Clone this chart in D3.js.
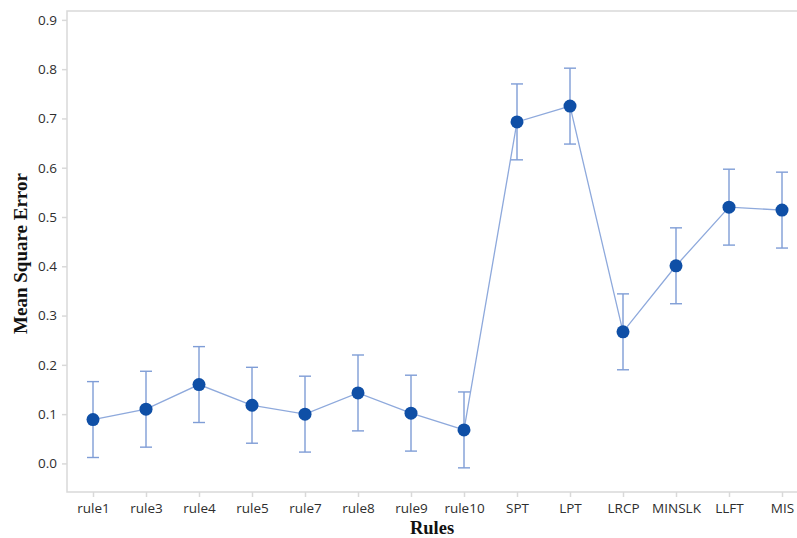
<!DOCTYPE html>
<html>
<head>
<meta charset="utf-8">
<script src="https://cdn.jsdelivr.net/npm/d3@7"></script>
<style>
  html, body { margin: 0; padding: 0; background: #fff; }
  svg { display: block; }
</style>
</head>
<body>
<svg id="chart" width="797" height="538"></svg>
<script>
// Dispatching rules and their mean square error with interval bounds
const rules = ["rule1", "rule3", "rule4", "rule5", "rule7", "rule8", "rule9", "rule10",
               "SPT", "LPT", "LRCP", "MINSLK", "LLFT", "MIS"];
const mse   = [0.089, 0.110, 0.160, 0.118, 0.100, 0.143, 0.102, 0.068,
               0.693, 0.725, 0.267, 0.401, 0.520, 0.514];
const lower = [0.012, 0.033, 0.083, 0.041, 0.023, 0.066, 0.025, -0.009,
               0.616, 0.648, 0.190, 0.324, 0.443, 0.437];
const upper = [0.166, 0.187, 0.237, 0.195, 0.177, 0.220, 0.179, 0.145,
               0.770, 0.802, 0.344, 0.478, 0.597, 0.591];
const yTicks = [0.0, 0.1, 0.2, 0.3, 0.4, 0.5, 0.6, 0.7, 0.8, 0.9];

const svg = d3.select("#chart");
const frame = { left: 67, top: 11, bottom: 492, right: 835 };

const x = d3.scalePoint()
  .domain(rules)
  .range([93, 93 + 53 * (rules.length - 1)]);

const y = d3.scaleLinear()
  .domain([-0.058, 0.918])
  .range([frame.bottom, frame.top]);

const frameColor = "#d9d9d9";
const textColor = "#2e2e2e";
const lineColor = "#8ea9dc";
const barColor = "#7f9dd6";
const dotColor = "#0f4fa6";
const tickFont = "'Open Sans', 'Noto Sans', sans-serif";
const titleFont = "'Liberation Serif', 'Times New Roman', serif";

// plot frame
svg.append("rect")
  .attr("x", frame.left).attr("y", frame.top)
  .attr("width", frame.right - frame.left)
  .attr("height", frame.bottom - frame.top)
  .attr("fill", "none")
  .attr("stroke", frameColor)
  .attr("stroke-width", 1.5);

// y axis
const yAxis = d3.axisLeft(y)
  .tickValues(yTicks)
  .tickFormat(d3.format(".1f"))
  .tickSize(5)
  .tickPadding(5);
const gy = svg.append("g")
  .attr("transform", `translate(${frame.left},0)`)
  .call(yAxis);
gy.select(".domain").remove();
gy.selectAll(".tick line").attr("stroke", frameColor).attr("stroke-width", 1.5);
gy.selectAll(".tick text")
  .attr("fill", textColor)
  .style("font-family", tickFont)
  .style("font-size", "13.5px");

// x axis
const xAxis = d3.axisBottom(x).tickSize(5).tickPadding(6);
const gx = svg.append("g")
  .attr("transform", `translate(0,${frame.bottom})`)
  .call(xAxis);
gx.select(".domain").remove();
gx.selectAll(".tick line").attr("stroke", frameColor).attr("stroke-width", 1.5);
gx.selectAll(".tick text")
  .attr("fill", textColor)
  .style("font-family", tickFont)
  .style("font-size", "13.5px");

// axis titles
svg.append("text")
  .attr("x", 432).attr("y", 534)
  .attr("text-anchor", "middle")
  .style("font-family", titleFont)
  .style("font-weight", "bold")
  .style("font-size", "18.5px")
  .attr("fill", "#111")
  .text("Rules");

svg.append("text")
  .attr("transform", `translate(27,${(frame.top + frame.bottom) / 2 + 2}) rotate(-90)`)
  .attr("text-anchor", "middle")
  .style("font-family", titleFont)
  .style("font-weight", "bold")
  .style("font-size", "19px")
  .attr("fill", "#111")
  .text("Mean Square Error");

const data = rules.map((r, i) => ({ rule: r, v: mse[i], lo: lower[i], hi: upper[i] }));

// error bars
const eb = svg.append("g").attr("stroke", barColor).attr("stroke-width", 1.4).attr("fill", "none");
const capW = 6;
data.forEach(d => {
  const cx = x(d.rule);
  eb.append("line").attr("x1", cx).attr("x2", cx).attr("y1", y(d.lo)).attr("y2", y(d.hi));
  eb.append("line").attr("x1", cx - capW).attr("x2", cx + capW).attr("y1", y(d.hi)).attr("y2", y(d.hi));
  eb.append("line").attr("x1", cx - capW).attr("x2", cx + capW).attr("y1", y(d.lo)).attr("y2", y(d.lo));
});

// connecting line
svg.append("path")
  .datum(data)
  .attr("fill", "none")
  .attr("stroke", lineColor)
  .attr("stroke-width", 1.3)
  .attr("d", d3.line().x(d => x(d.rule)).y(d => y(d.v)));

// mean points
svg.append("g").selectAll("circle")
  .data(data)
  .join("circle")
  .attr("cx", d => x(d.rule))
  .attr("cy", d => y(d.v))
  .attr("r", 6.5)
  .attr("fill", dotColor);
</script>
</body>
</html>
